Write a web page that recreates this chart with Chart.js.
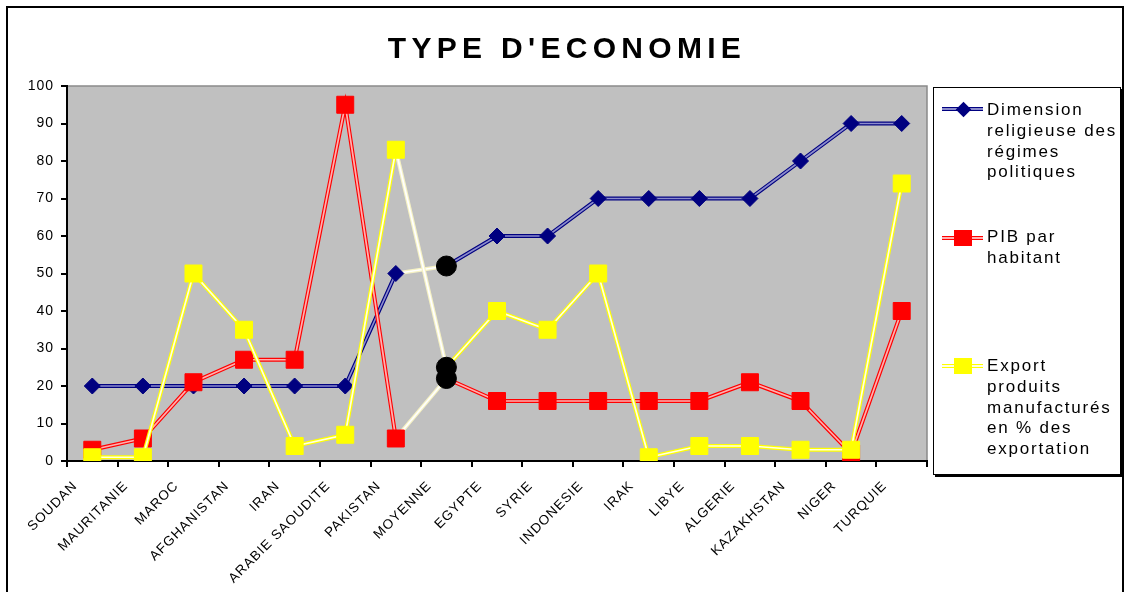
<!DOCTYPE html>
<html>
<head>
<meta charset="utf-8">
<script src="https://cdn.jsdelivr.net/npm/chart.js@4"></script>
<style>
  body { margin: 0; background: #fff; }
  #wrap { position: relative; width: 1126px; height: 592px; overflow: hidden; font-family: "Liberation Sans", Arial, sans-serif; }
  #frame { position: absolute; left: 6px; top: 6px; width: 1114px; height: 620px; border: 2px solid #000; }
  #chart { position: absolute; left: 0; top: 0; }
  #title { position: absolute; left: 312px; top: 31px; width: 500px; text-align: center; font-size: 30px; font-weight: bold; line-height: 34px; letter-spacing: 5.3px; padding-left: 5px; }
  #legend { position: absolute; left: 933px; top: 87px; width: 186px; height: 386px; border: 1.5px solid #000; box-shadow: 2px 2px 0 #000; background: #fff; }
  .item { position: absolute; left: 53px; font-size: 17px; letter-spacing: 1.8px; line-height: 20.8px; }
  .line { position: absolute; left: 8px; width: 41px; height: 2px; }
  .mark { position: absolute; }
</style>
</head>
<body>
<div id="wrap">
  <div id="frame"></div>
  <canvas id="chart" width="1126" height="592"></canvas>
  <div id="title">TYPE D'ECONOMIE</div>
  <div id="legend"></div>
</div>
<script>
// categories and values
var countries = ["SOUDAN", "MAURITANIE", "MAROC", "AFGHANISTAN", "IRAN", "ARABIE SAOUDITE", "PAKISTAN", "MOYENNE", "EGYPTE", "SYRIE", "INDONESIE", "IRAK", "LIBYE", "ALGERIE", "KAZAKHSTAN", "NIGER", "TURQUIE"];
var religion = [20, 20, 20, 20, 20, 20, 50, 52, 60, 60, 70, 70, 70, 70, 80, 90, 90];
var pib = [3, 6, 21, 27, 27, 95, 6, 22, 16, 16, 16, 16, 16, 21, 16, 2, 40];
var exportManuf = [1, 1, 50, 35, 4, 7, 83, 25, 40, 35, 50, 1, 4, 4, 3, 3, 74];
var yTicks = [0, 10, 20, 30, 40, 50, 60, 70, 80, 90, 100];

var seriesNames = [["Dimension", "religieuse des", "régimes", "politiques"], ["PIB par", "habitant"], ["Export", "produits", "manufacturés", "en % des", "exportation"]];

var moyenneIndex = countries.indexOf("MOYENNE");

var series = [
    { data: religion, outer: "#000080", inner: "#8C8CCC", style: "rectRot", radius: 8, order: 4 },
    { data: pib, outer: "#FF0000", inner: "#FFB0B0", style: "rect", radius: 12, order: 2 },
    { data: exportManuf, outer: "#FFFF00", inner: "#FFFFE6", style: "rect", radius: 12, order: 0 }
];

var datasets = [];
series.forEach(function (s) {
    var styles = [], radii = [], fills = [];
    for (var i = 0; i < s.data.length; i++) {
        if (i === moyenneIndex) {
            styles.push("circle"); radii.push(10); fills.push("#000");
        } else {
            styles.push(s.style); radii.push(s.radius); fills.push(s.outer);
        }
    }
    // wide coloured line underneath
    datasets.push({
        data: s.data,
        borderColor: s.outer,
        borderWidth: 4,
        pointRadius: 0,
        tension: 0,
        order: s.order + 1,
        segment: {
            borderColor: function (ctx) { return ctx.p1DataIndex === moyenneIndex ? "#F6F2C4" : undefined; }
        }
    });
    // thin light line on top, carries the markers
    datasets.push({
        data: s.data,
        borderColor: s.inner,
        borderWidth: 1.7,
        pointStyle: styles,
        pointRadius: radii,
        pointBackgroundColor: fills,
        pointBorderColor: fills,
        pointBorderWidth: 1,
        tension: 0,
        order: s.order,
        segment: {
            borderColor: function (ctx) { return ctx.p1DataIndex === moyenneIndex ? "#FFFFFF" : undefined; }
        }
    });
});

var plotBackground = {
    id: "plotBackground",
    beforeDraw: function (chart) {
        var ctx = chart.ctx, a = chart.chartArea;
        ctx.save();
        ctx.fillStyle = "#C0C0C0";
        ctx.fillRect(a.left, a.top, a.right - a.left, a.bottom - a.top);
        ctx.strokeStyle = "#8A8A8A";
        ctx.lineWidth = 1.5;
        ctx.strokeRect(a.left, a.top, a.right - a.left, a.bottom - a.top);
        ctx.restore();
        ctx.letterSpacing = "1px";
    }
};

var tickFont = { family: "'Liberation Sans', Arial, sans-serif", size: 14 };

let economyChart = new Chart(document.getElementById("chart").getContext("2d"), {
    type: "line",
    data: { labels: countries, datasets: datasets },
    options: {
        responsive: false,
        animation: false,
        layout: { padding: { top: 86, right: 199, left: 0, bottom: 0 } },
        plugins: { legend: { display: false }, tooltip: { enabled: false } },
        scales: {
            x: {
                offset: true,
                grid: { offset: true, drawOnChartArea: false, color: "#000", lineWidth: 2, tickLength: 6 },
                border: { color: "#000", width: 2 },
                ticks: { autoSkip: false, minRotation: 45, maxRotation: 45, color: "#000", font: { family: tickFont.family, size: 13.5 }, padding: 11, labelOffset: -17 },
                afterFit: function (scale) { scale.height = 131; }
            },
            y: {
                min: 0,
                max: 100,
                afterBuildTicks: function (scale) { scale.ticks = yTicks.map(function (v) { return { value: v }; }); },
                grid: { drawOnChartArea: false, color: "#000", lineWidth: 2, tickLength: 6 },
                border: { color: "#000", width: 2 },
                ticks: { color: "#000", font: tickFont, padding: 7 },
                afterFit: function (scale) { scale.width = 67; }
            }
        }
    },
    plugins: [plotBackground]
});

// legend box drawn as html
var legend = document.getElementById("legend");
var itemTops = [12, 139, 268];
var markCentres = [21, 150, 278];
series.forEach(function (s, k) {
    var line = document.createElement("div");
    line.className = "line";
    line.style.top = (markCentres[k] - 2) + "px";
    line.style.borderTop = "1px solid " + s.outer;
    line.style.borderBottom = "1px solid " + s.outer;
    line.style.background = s.inner;
    legend.appendChild(line);

    var mark = document.createElement("div");
    mark.className = "mark";
    mark.style.background = s.outer;
    if (s.style === "rectRot") {
        mark.style.width = "11px"; mark.style.height = "11px";
        mark.style.left = (29 - 5.5) + "px"; mark.style.top = (markCentres[k] - 5.5) + "px";
        mark.style.transform = "rotate(45deg)";
    } else {
        mark.style.width = "18px"; mark.style.height = "16px";
        mark.style.left = (29 - 9) + "px"; mark.style.top = (markCentres[k] - 8) + "px";
    }
    legend.appendChild(mark);

    var text = document.createElement("div");
    text.className = "item";
    text.style.top = itemTops[k] + "px";
    text.innerHTML = seriesNames[k].join("<br>");
    legend.appendChild(text);
});
</script>
</body>
</html>
